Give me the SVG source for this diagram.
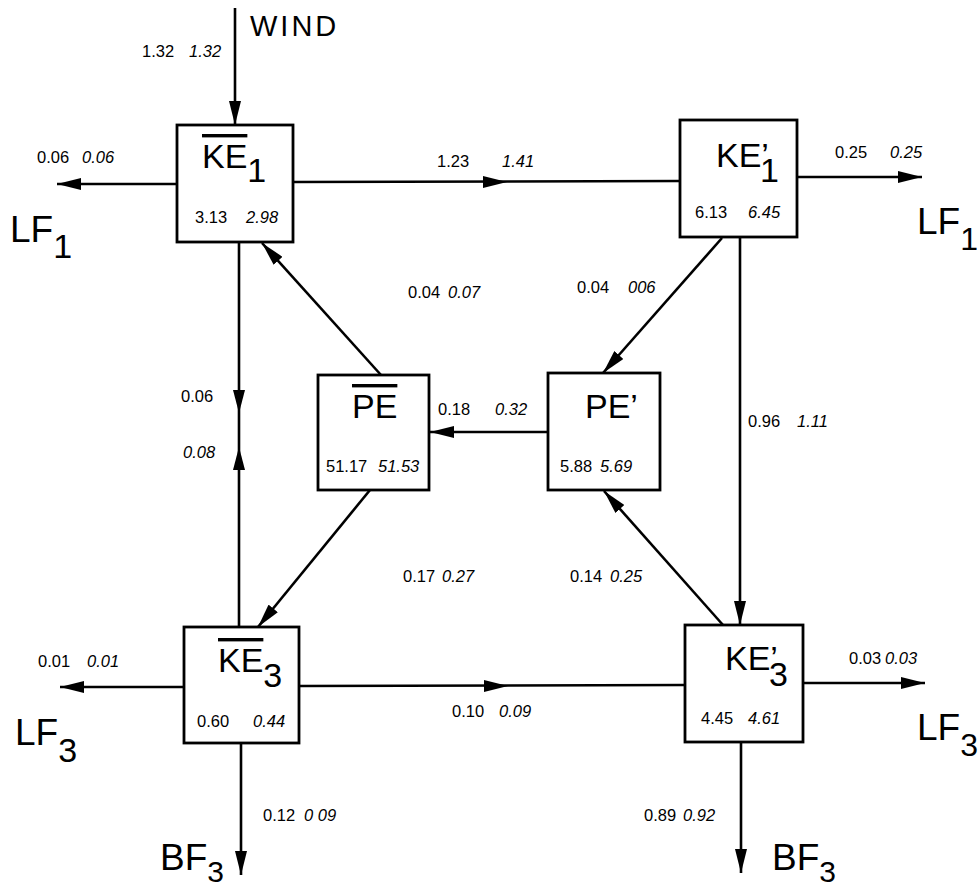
<svg xmlns="http://www.w3.org/2000/svg" width="978" height="893" viewBox="0 0 978 893">
<style>
.box{fill:#fff;stroke:#000;stroke-width:2.8}
.ln{stroke:#000;stroke-width:2.6;fill:none}
.ah{fill:#000}
text{font-family:"Liberation Sans",Arial,sans-serif;fill:#000}
.n{font-size:16.5px}
.i{font-style:italic}
.t{font-size:34px}
.big{font-size:37px}
.w{font-size:29px;letter-spacing:3px}
</style>
<defs>
<marker id="arr" viewBox="0 0 24 12" refX="24" refY="6" markerWidth="24" markerHeight="12" markerUnits="userSpaceOnUse" orient="auto"><path d="M0,0 L24,6 L0,12 z" class="ah"/></marker>
</defs>
<g id="connectors">
<line class="ln" x1="235" y1="8" x2="235" y2="125" marker-end="url(#arr)"/>
<line class="ln" x1="177" y1="184" x2="57" y2="184" marker-end="url(#arr)"/>
<line class="ln" x1="293" y1="182" x2="680" y2="181"/>
<path class="ah" d="M483,176 L507,182 L483,188 z"/>
<line class="ln" x1="797" y1="177" x2="922" y2="177" marker-end="url(#arr)"/>
<line class="ln" x1="722" y1="238" x2="603" y2="373" marker-end="url(#arr)"/>
<line class="ln" x1="740" y1="238" x2="740" y2="625" marker-end="url(#arr)"/>
<line class="ln" x1="548" y1="432" x2="430" y2="432" marker-end="url(#arr)"/>
<line class="ln" x1="381" y1="375" x2="262" y2="243" marker-end="url(#arr)"/>
<line class="ln" x1="370" y1="490" x2="258" y2="627" marker-end="url(#arr)"/>
<line class="ln" x1="723" y1="625" x2="604" y2="491" marker-end="url(#arr)"/>
<line class="ln" x1="239" y1="243" x2="239" y2="627"/>
<path class="ah" d="M233,390 L239,413 L245,390 z"/>
<path class="ah" d="M233,470 L239,447 L245,470 z"/>
<line class="ln" x1="184" y1="687" x2="60" y2="687" marker-end="url(#arr)"/>
<line class="ln" x1="299" y1="686" x2="685" y2="685"/>
<path class="ah" d="M484,680 L508,686 L484,692 z"/>
<line class="ln" x1="803" y1="683" x2="925" y2="683" marker-end="url(#arr)"/>
<line class="ln" x1="241" y1="744" x2="241" y2="875" marker-end="url(#arr)"/>
<line class="ln" x1="741" y1="742" x2="741" y2="873" marker-end="url(#arr)"/>
</g>
<g id="KE1bar">
<rect class="box" x="177" y="125" width="116" height="117"/>
<text class="t" x="202" y="168"><tspan text-decoration="overline">KE</tspan><tspan dy="14">1</tspan></text>
<text class="n" y="223"><tspan x="195">3.13</tspan><tspan class="i" x="246">2.98</tspan></text>
</g>
<g id="KE1p">
<rect class="box" x="680" y="120" width="117" height="117"/>
<text class="t" x="716" y="167">KE’<tspan dx="-9" dy="15">1</tspan></text>
<text class="n" y="218"><tspan x="695">6.13</tspan><tspan class="i" x="748">6.45</tspan></text>
</g>
<g id="PEbar">
<rect class="box" x="318" y="375" width="111" height="115"/>
<text class="t" x="352" y="418" font-size="36"><tspan text-decoration="overline">PE</tspan></text>
<text class="n" y="472" font-size="17"><tspan x="326">51.17</tspan><tspan class="i" x="378">51.53</tspan></text>
</g>
<g id="PEp">
<rect class="box" x="548" y="373" width="112" height="117"/>
<text class="t" x="585" y="418" font-size="36">PE’</text>
<text class="n" y="472" font-size="17"><tspan x="560">5.88</tspan><tspan class="i" x="600">5.69</tspan></text>
</g>
<g id="KE3bar">
<rect class="box" x="184" y="627" width="115" height="116"/>
<text class="t" x="218" y="672"><tspan text-decoration="overline">KE</tspan><tspan dy="15">3</tspan></text>
<text class="n" y="727"><tspan x="197">0.60</tspan><tspan class="i" x="253">0.44</tspan></text>
</g>
<g id="KE3p">
<rect class="box" x="685" y="625" width="118" height="117"/>
<text class="t" x="725" y="670">KE’<tspan dx="-9" dy="16">3</tspan></text>
<text class="n" y="724"><tspan x="701">4.45</tspan><tspan class="i" x="748">4.61</tspan></text>
</g>
<g id="labels">
<text class="w" x="250" y="36">WIND</text>
<text class="n" y="57"><tspan x="142">1.32</tspan><tspan class="i" x="189">1.32</tspan></text>
<text class="n" y="163"><tspan x="37">0.06</tspan><tspan class="i" x="82">0.06</tspan></text>
<text class="big" x="10" y="242">LF<tspan font-size="34" dy="16">1</tspan></text>
<text class="n" y="167"><tspan x="437">1.23</tspan><tspan class="i" x="502">1.41</tspan></text>
<text class="n" y="158"><tspan x="835">0.25</tspan><tspan class="i" x="890">0.25</tspan></text>
<text class="big" x="917" y="234" font-size="36">LF<tspan font-size="32" dy="16">1</tspan></text>
<text class="n" y="298"><tspan x="408">0.04</tspan><tspan class="i" x="448">0.07</tspan></text>
<text class="n" y="293"><tspan x="577">0.04</tspan><tspan class="i" x="628">006</tspan></text>
<text class="n" x="181" y="402" font-size="17">0.06</text>
<text class="n i" x="183" y="458" font-size="17">0.08</text>
<text class="n" y="415" font-size="18"><tspan x="438">0.18</tspan><tspan class="i" x="495">0.32</tspan></text>
<text class="n" y="427"><tspan x="748">0.96</tspan><tspan class="i" x="797">1.11</tspan></text>
<text class="n" y="582"><tspan x="403">0.17</tspan><tspan class="i" x="442">0.27</tspan></text>
<text class="n" y="582"><tspan x="570">0.14</tspan><tspan class="i" x="610">0.25</tspan></text>
<text class="n" y="667"><tspan x="38">0.01</tspan><tspan class="i" x="87">0.01</tspan></text>
<text class="big" x="15" y="745">LF<tspan font-size="34" dy="17">3</tspan></text>
<text class="n" y="717"><tspan x="452">0.10</tspan><tspan class="i" x="499">0.09</tspan></text>
<text class="n" y="664"><tspan x="849">0.03</tspan><tspan class="i" x="885">0.03</tspan></text>
<text class="big" x="917" y="740" font-size="36">LF<tspan font-size="32" dy="16">3</tspan></text>
<text class="n" y="821"><tspan x="263">0.12</tspan><tspan class="i" x="304">0 09</tspan></text>
<text class="big" x="160" y="870">BF<tspan font-size="30" dy="12">3</tspan></text>
<text class="n" y="821"><tspan x="644">0.89</tspan><tspan class="i" x="683">0.92</tspan></text>
<text class="big" x="772" y="870">BF<tspan font-size="30" dy="12">3</tspan></text>
</g>
</svg>
